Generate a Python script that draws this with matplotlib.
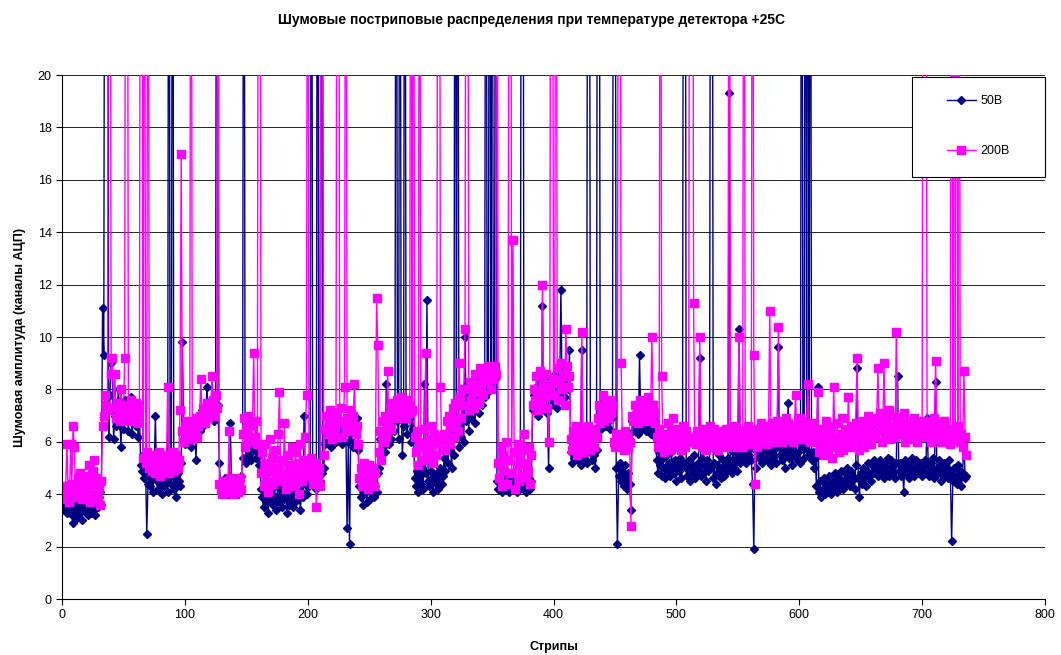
import numpy as np
import matplotlib
matplotlib.use("Agg")
import matplotlib.pyplot as plt
from matplotlib.patches import Rectangle

plt.rcParams['font.family'] = ['Liberation Sans', 'DejaVu Sans']

title = "Шумовые постриповые распределения при температуре детектора +25С"
xlabel = "Стрипы"
ylabel = "Шумовая амплитуда (каналы АЦП)"
labels = ["50В", "200В"]

# noise per strip at 50 V bias (values above 20 run off the top of the plot)
noise_50 = [
    # 0-31
    3.6,3.4,3.8,3.3,3.7,3.5,3.9,3.2,2.9,3.4,3.6,3.1,3.8,3.5,3.3,3.0,3.7,3.4,3.9,3.6,3.2,3.5,3.8,3.3,3.6,3.4,3.2,3.7,3.5,3.9,4.1,3.6,
    # 32-36
    11.1,9.3,40,40,40,
    # 37-62
    6.2,7.8,9.0,8.6,6.1,7.0,6.6,7.4,8.0,6.9,5.8,7.2,6.5,7.6,6.8,7.3,6.4,7.1,7.7,6.3,6.9,7.5,6.6,7.0,6.2,7.3,
    # 63-70
    5.1,4.9,5.5,4.6,5.0,2.5,4.4,4.8,
    # 71-95
    4.3,4.7,4.1,4.9,7.0,4.5,4.2,4.8,4.4,4.0,4.6,4.3,4.9,4.5,4.1,40,4.7,4.4,40,4.2,4.6,3.9,4.8,4.5,4.3,
    # 96-125
    5.2,9.8,6.1,5.9,6.4,6.0,6.6,6.2,5.8,6.7,6.3,6.9,5.3,6.5,7.0,6.4,6.8,7.2,6.6,7.4,7.1,8.1,6.9,7.3,7.6,7.0,7.5,6.8,7.7,40,
    # 126-145
    7.4,5.2,4.4,4.1,4.5,4.2,4.6,4.3,4.0,4.4,6.7,4.2,4.5,4.1,4.3,4.6,4.0,4.4,4.2,4.7,
    # 146-160
    5.4,40,5.8,5.2,6.1,5.5,5.9,5.3,6.2,5.7,6.0,5.4,5.8,5.1,5.6,
    # 161-198
    4.2,3.9,3.5,4.4,3.7,4.1,3.3,4.5,3.8,4.0,3.6,4.3,3.4,3.9,4.6,3.7,4.2,3.5,4.0,3.8,
    4.4,3.3,4.1,3.6,3.9,4.3,3.5,4.0,3.7,4.5,3.8,4.2,3.4,4.1,3.9,7.0,4.4,4.0,
    # 199-212
    4.6,4.3,4.8,40,4.5,4.9,4.4,4.2,40,4.7,4.5,40,4.8,5.0,
    # 213-240
    5.9,6.4,6.1,6.8,6.3,5.8,6.6,6.2,6.9,6.0,6.5,6.7,6.1,6.4,5.9,6.8,6.3,6.6,2.7,6.0,2.1,6.5,6.2,5.8,6.7,6.4,6.9,5.7,
    # 241-256
    4.3,3.9,4.5,3.6,4.1,4.4,3.7,4.2,4.6,3.8,4.0,4.5,3.9,4.3,4.1,4.8,
    # 257-270
    5.0,6.1,5.4,5.8,6.5,5.6,8.2,6.3,5.9,6.8,6.1,7.1,6.4,6.9,
    # 271-285
    40,6.8,6.1,40,7.2,5.5,6.6,40,7.0,6.3,7.4,6.9,6.0,7.1,6.5,
    # 286-309
    4.6,4.3,4.9,4.1,4.7,4.4,5.0,4.2,8.2,4.8,11.4,4.5,4.3,4.9,4.6,4.1,4.7,4.4,4.8,4.2,4.6,5.0,4.4,4.7,
    # 310-343
    5.4,4.9,6.0,5.2,5.7,6.3,5.0,6.1,5.5,40,6.6,40,5.8,6.9,6.2,7.3,6.0,10.0,6.8,
    7.5,6.4,7.8,6.9,7.2,8.0,6.7,7.6,8.3,7.1,7.9,8.5,7.4,8.1,7.7,
    # 344-352
    40,8.3,7.9,40,8.6,40,8.1,8.4,40,
    # 353-381
    4.5,4.2,4.6,4.3,4.1,4.4,4.6,4.2,4.5,4.3,4.1,4.4,4.6,4.2,4.3,4.5,4.1,4.4,4.2,4.6,40,40,4.3,4.5,4.1,4.4,4.6,4.2,4.5,
    # 382-412
    7.2,7.8,7.4,8.1,7.0,7.6,8.3,7.3,11.2,7.9,7.5,8.4,7.1,5.0,8.0,7.4,8.2,7.6,8.6,7.9,
    7.3,8.5,7.8,11.8,8.1,8.8,7.7,8.4,8.9,8.0,9.5,
    # 413-434
    5.6,5.2,5.9,5.4,6.0,5.5,5.3,5.8,5.1,9.5,5.7,5.4,5.9,5.2,40,40,5.6,5.3,5.8,5.5,5.0,5.7,
    # 435-447
    40,40,6.9,6.5,7.2,6.7,7.0,6.6,7.3,6.8,6.5,7.1,6.9,
    # 448-461
    40,40,5.0,2.1,4.7,5.2,4.5,4.9,4.3,5.1,4.6,4.2,4.8,4.4,
    # 462-482
    3.4,6.8,6.4,7.1,6.6,7.0,6.3,9.3,6.9,6.5,7.2,6.7,6.4,7.0,6.6,6.8,6.3,7.1,6.9,6.5,6.2,
    # 483-551
    5.3,4.8,5.6,5.1,4.7,5.4,5.0,4.6,5.5,4.9,5.2,4.7,5.6,5.0,4.8,5.3,4.5,
    5.1,4.9,5.4,4.6,5.2,40,40,5.0,4.7,5.3,4.5,5.1,4.8,5.5,4.6,5.0,4.9,5.2,
    9.2,4.7,5.4,4.8,5.1,4.5,5.3,4.9,5.0,40,40,4.6,5.2,4.4,5.1,4.8,5.5,4.6,
    5.0,5.3,4.7,5.2,4.9,5.4,19.3,5.1,4.8,5.6,5.0,5.3,4.9,5.5,10.3,5.2,
    # 552-612
    5.6,6.0,5.4,5.8,5.2,5.9,5.5,6.1,5.3,4.4,1.9,5.7,5.0,5.8,5.4,6.0,5.6,5.2,5.9,
    5.5,5.8,5.3,6.0,5.6,5.1,5.7,5.4,5.9,5.2,5.8,9.6,5.5,6.1,5.3,5.7,5.0,5.6,5.9,7.5,
    5.4,5.8,5.1,5.7,5.5,6.0,5.3,5.6,5.9,5.2,40,5.8,5.4,40,5.7,40,5.5,40,5.3,5.6,5.0,5.4,
    # 613-660
    4.3,8.1,4.1,4.5,3.9,4.2,4.6,4.0,4.4,4.1,4.7,4.3,4.0,4.5,4.2,4.8,4.4,4.1,
    4.6,4.3,4.9,4.5,4.2,4.8,4.4,5.0,4.6,4.3,4.9,4.5,4.7,4.2,5.1,8.8,4.6,3.9,
    4.8,4.4,5.0,4.6,4.3,4.9,5.2,4.7,4.5,5.1,4.8,5.3,
    # 661-699
    4.9,5.2,4.7,5.0,5.3,4.8,5.1,4.6,5.2,4.9,5.4,4.7,5.0,5.3,4.8,5.1,4.6,5.2,8.5,4.9,
    5.2,4.7,5.0,4.1,5.3,4.8,5.1,4.6,5.2,4.9,5.4,4.7,5.0,5.3,4.8,5.1,4.9,5.2,4.7,
    # 700-735
    5.0,5.3,4.8,6.9,5.1,4.7,5.2,4.9,5.4,4.6,8.3,5.0,4.8,5.3,4.5,5.1,4.9,5.2,
    4.7,5.0,4.6,5.3,4.8,2.2,4.5,5.0,4.7,4.4,5.1,4.6,4.9,4.3,4.8,6.2,4.6,4.7,
]

# noise per strip at 200 V bias
noise_200 = [
    # 0-31
    4.0,3.8,4.3,5.9,4.1,3.7,5.9,4.4,6.6,5.8,4.2,3.9,4.6,4.0,4.8,3.8,4.3,4.5,3.9,4.7,4.1,5.1,3.7,4.4,4.9,5.3,4.0,4.6,3.8,4.2,3.6,4.5,
    # 32-36
    6.6,7.0,7.8,7.4,7.2,
    # 37-62
    40,40,8.6,9.2,7.3,8.6,6.9,7.5,7.1,6.8,8.0,7.4,6.9,9.2,40,40,7.2,6.8,7.6,7.0,7.3,6.9,7.5,7.1,6.7,7.4,
    # 63-70
    40,40,5.4,40,5.2,5.6,40,5.0,
    # 71-95
    5.3,4.9,5.5,5.1,4.8,5.4,5.0,5.6,4.7,5.2,5.5,4.9,5.3,5.1,8.1,4.8,5.4,5.0,5.6,4.9,5.2,5.5,5.0,5.3,7.2,
    # 96-125
    17.0,6.4,6.0,6.6,6.2,6.8,6.3,6.5,40,6.1,6.7,6.4,6.9,6.2,6.6,7.0,8.4,6.8,7.3,6.7,7.1,7.5,6.9,7.4,7.2,8.5,7.6,7.0,7.8,7.3,
    # 126-145
    40,4.4,4.2,4.0,4.5,4.3,4.1,4.4,4.2,6.4,4.6,4.3,4.0,4.4,4.2,4.5,4.1,4.3,4.6,4.2,
    # 146-160
    6.3,6.9,5.8,6.5,7.0,6.1,6.7,6.0,6.6,9.4,6.2,6.8,5.9,40,40,
    # 161-198
    4.8,5.6,4.3,5.9,4.6,5.2,4.1,6.1,4.9,5.4,4.4,5.7,4.7,5.0,6.3,7.9,4.5,5.3,4.8,6.7,
    4.2,5.5,4.6,5.1,4.3,5.8,4.9,4.4,5.6,4.7,5.2,4.0,5.9,4.5,5.3,4.8,6.2,7.8,
    # 199-212
    40,5.1,4.7,5.4,4.4,4.9,5.2,3.5,4.6,5.0,4.3,40,40,5.5,
    # 213-240
    6.5,7.0,6.3,6.8,7.2,6.6,6.1,6.9,6.4,7.1,40,40,6.7,7.3,6.2,6.8,8.1,40,6.5,6.9,7.2,6.4,6.7,7.0,8.2,6.3,6.6,5.9,
    # 241-256
    4.6,5.0,4.3,4.8,5.2,4.4,4.9,4.2,5.1,4.7,4.5,5.0,4.3,4.8,11.5,9.7,
    # 257-270
    5.6,6.4,5.3,6.8,6.0,7.0,6.2,8.7,6.6,7.3,6.5,7.5,6.9,7.2,
    # 271-285
    7.2,7.6,6.9,7.4,7.7,7.0,7.5,7.3,6.9,7.6,7.1,7.4,40,7.2,40,
    # 286-309
    6.2,5.6,6.4,5.1,40,5.8,6.0,5.3,6.5,9.4,5.7,6.1,5.4,6.6,5.9,5.2,6.3,5.5,6.0,40,40,8.1,5.8,6.2,
    # 310-343
    6.3,5.7,6.8,6.0,7.0,5.9,6.6,7.3,6.2,7.5,6.8,6.4,9.0,7.7,6.9,7.4,8.0,10.3,40,40,
    7.2,8.3,7.6,8.0,7.3,8.6,7.9,8.2,7.5,8.8,8.1,8.4,7.8,8.7,
    # 344-352
    8.8,8.3,8.9,8.5,8.0,8.7,8.4,8.9,8.6,
    # 353-381
    40,5.2,4.6,5.8,4.3,5.5,4.9,6.0,4.4,5.3,40,40,4.8,13.7,5.6,4.2,5.1,5.9,4.5,5.4,4.7,5.7,6.3,4.6,5.2,4.9,5.8,4.4,5.5,
    # 382-412
    7.4,8.0,7.6,8.5,7.2,7.9,8.7,7.5,12.0,8.2,7.7,8.6,7.3,6.0,8.1,40,40,7.8,8.4,40,
    8.8,7.6,8.3,9.0,8.0,8.6,7.4,10.3,8.9,8.1,8.5,
    # 413-434
    6.1,5.7,6.4,5.9,6.6,5.5,6.2,5.8,6.5,10.2,6.0,5.6,6.3,5.9,6.6,6.1,5.7,6.4,6.0,5.8,6.5,6.2,
    # 435-447
    6.9,7.4,6.7,7.2,7.8,6.8,7.5,7.0,7.3,6.9,7.6,7.1,7.4,
    # 448-461
    6.0,5.8,6.3,5.9,40,40,9.0,6.1,5.7,6.4,5.9,6.2,5.8,6.0,
    # 462-482
    2.8,7.0,6.8,7.4,6.9,7.2,6.7,7.6,7.1,6.9,7.5,7.0,7.3,6.8,7.7,7.2,6.9,10.0,7.4,7.1,6.7,
    # 483-551
    6.2,5.8,6.5,40,8.5,6.0,5.6,6.3,5.9,6.7,6.1,5.7,6.4,6.9,5.8,6.2,6.0,
    6.5,5.9,6.3,5.7,6.6,6.1,5.8,6.4,6.0,6.2,40,40,40,11.3,6.1,5.9,6.4,6.0,
    10.0,6.3,5.8,6.5,6.1,5.7,6.4,6.0,6.6,5.9,6.2,5.8,6.5,6.0,6.3,5.7,6.4,6.1,
    5.9,6.3,6.0,6.5,5.8,6.2,40,6.1,5.9,6.4,6.0,6.6,5.8,6.3,10.0,6.1,
    # 552-612
    6.2,5.8,40,6.4,6.0,6.6,6.1,5.9,6.5,40,9.3,4.4,6.3,5.8,6.5,6.1,6.7,6.0,6.4,
    6.2,6.6,5.9,6.5,11.0,6.1,6.7,6.0,6.4,6.2,6.8,10.4,6.3,6.6,6.0,6.5,6.1,6.9,6.2,6.7,
    6.4,6.1,6.6,6.0,6.5,7.8,6.2,6.7,6.3,6.9,6.1,6.5,6.8,6.2,6.6,8.2,6.4,6.0,6.7,6.3,6.5,6.1,
    # 613-660
    6.0,7.9,5.6,6.3,5.8,6.5,5.5,6.1,6.8,5.7,6.4,5.9,6.6,5.4,8.1,6.2,5.8,6.7,
    5.6,6.3,6.0,6.9,5.7,6.5,5.9,6.2,7.7,6.0,6.6,5.8,6.4,6.1,6.7,9.2,6.3,5.7,
    6.5,6.0,6.8,5.8,6.4,6.1,7.0,6.2,5.9,6.6,6.3,6.9,
    # 661-699
    6.2,6.8,8.8,6.4,7.1,6.0,6.7,9.0,6.3,6.9,6.5,7.2,6.1,6.6,6.4,7.0,6.2,10.2,6.8,6.5,
    6.9,6.3,6.6,7.1,6.0,6.7,6.4,6.2,6.8,6.5,6.1,6.9,6.3,6.6,6.0,6.4,6.8,6.2,6.5,
    # 700-735
    40,40,40,6.6,6.2,6.8,6.0,6.5,6.3,6.9,9.1,6.1,6.7,6.4,6.0,6.6,6.2,6.8,
    6.3,6.0,6.5,6.2,5.9,40,6.4,40,6.1,40,6.6,40,6.0,6.3,5.8,8.7,6.2,5.5,
]

strips_50 = np.arange(1, len(noise_50) + 1)
strips_200 = np.arange(1, len(noise_200) + 1)

W, H = 1061, 655
fig = plt.figure(figsize=(W / 100, H / 100), dpi=100)
ax = fig.add_axes([62 / W, 56 / H, 983 / W, 524 / H])

ax.plot(strips_50, noise_50, color='#000080', lw=1.0, marker='D', markersize=4.5,
        markerfacecolor='#000080', markeredgecolor='#000080', label=labels[0])
ax.plot(strips_200, noise_200, color='#FF00FF', lw=1.0, marker='s', markersize=5.5,
        markerfacecolor='#FF00FF', markeredgecolor='#FF00FF', label=labels[1])

ax.set_xlim(0, 800)
ax.set_ylim(0, 20)
ax.set_xticks(np.arange(0, 801, 100))
ax.set_yticks(np.arange(0, 21, 2))
ax.yaxis.grid(True, color='black', lw=0.6)
ax.set_axisbelow(True)
for s in ['top', 'right']:
    ax.spines[s].set_visible(False)
ax.tick_params(direction='out', length=4, labelsize=9)

ax.set_xlabel(xlabel, fontsize=9, fontweight='bold', labelpad=14)
ax.set_ylabel(ylabel, fontsize=9, fontweight='bold', labelpad=8)
fig.text(531 / W, 1 - 20 / H, title, ha='center', va='center',
         fontsize=10, fontweight='bold')

# legend box with a frame drawn separately, so the padding can be wider than tall
box = Rectangle((0.8647, 0.8053), 0.1353, 0.1909, transform=ax.transAxes,
                facecolor='white', edgecolor='black', lw=0.8, zorder=5, clip_on=False)
ax.add_patch(box)
leg = ax.legend(loc='upper left', bbox_to_anchor=(0.9003, 0.961), borderaxespad=0,
                borderpad=0, frameon=False, fontsize=9,
                labelspacing=3.0, handlelength=2.3, handletextpad=0.4)
leg.set_zorder(6)

fig.savefig("out.png", dpi=100)
